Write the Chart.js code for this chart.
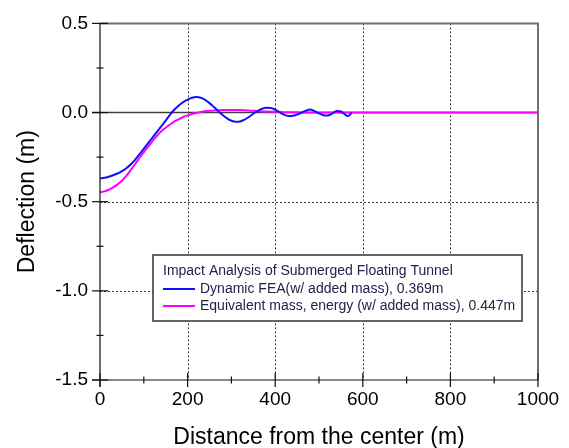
<!DOCTYPE html>
<html>
<head>
<meta charset="utf-8">
<script src="https://cdn.jsdelivr.net/npm/chart.js@4.4.1/dist/chart.umd.min.js"></script>
<style>
  html, body { margin: 0; padding: 0; background: #fff; }
</style>
</head>
<body>
<canvas id="chart" width="569" height="448"></canvas>
<script>
// Dynamic FEA (w/ added mass) - blue
const feaX = [0, 10, 20, 30, 40, 50, 60, 70, 80, 90, 100, 110, 120, 130, 140, 150, 160, 170, 180, 190,
  200, 210, 220, 230, 240, 250, 260, 270, 280, 290, 300, 310, 320, 330, 340, 350, 360, 370, 380, 390,
  400, 410, 420, 430, 440, 450, 460, 470, 480, 490, 500, 510, 520, 530, 540, 550, 560, 565, 570, 575];
const feaY = [-0.369, -0.366, -0.360, -0.352, -0.342, -0.329, -0.312, -0.291, -0.265, -0.235,
  -0.203, -0.171, -0.140, -0.109, -0.077, -0.045, -0.012, 0.017, 0.040, 0.058,
  0.072, 0.083, 0.087, 0.083, 0.071, 0.053, 0.031, 0.008, -0.014, -0.033,
  -0.046, -0.052, -0.050, -0.040, -0.025, -0.007, 0.009, 0.021, 0.027, 0.026,
  0.016, 0.002, -0.012, -0.019, -0.018, -0.011, -0.001, 0.010, 0.017, 0.008,
  -0.005, -0.015, -0.017, -0.006, 0.009, 0.006, -0.012, -0.020, -0.014, 0.000];

// Equivalent mass, energy (w/ added mass) - magenta
const eqX = [0, 10, 20, 30, 40, 50, 60, 70, 80, 90, 100, 110, 120, 130, 140, 150, 160, 170, 180, 190,
  200, 210, 220, 230, 240, 250, 260, 280, 300, 320, 340, 360, 380, 400, 420, 450, 500, 600, 1000];
const eqY = [-0.447, -0.442, -0.433, -0.420, -0.403, -0.382, -0.355, -0.323, -0.290, -0.255,
  -0.222, -0.191, -0.160, -0.130, -0.105, -0.085, -0.067, -0.050, -0.037, -0.025,
  -0.016, -0.008, -0.002, 0.003, 0.007, 0.010, 0.012, 0.014, 0.015, 0.014,
  0.012, 0.009, 0.006, 0.004, 0.002, 0.001, 0, 0, 0];

const seriesLabels = ['Dynamic FEA(w/ added mass), 0.369m', 'Equivalent mass, energy (w/ added mass), 0.447m'];
const legendTitle = 'Impact Analysis of Submerged Floating Tunnel';

const FONT = "'Liberation Sans', Arial, sans-serif";

// gridlines, zero line, frame, crossing tick marks and the boxed legend
const decoPlugin = {
  id: 'deco',
  beforeDatasetsDraw(chart) {
    const ctx = chart.ctx;
    const a = chart.chartArea;
    const xs = chart.scales.x, ys = chart.scales.y;
    ctx.save();
    ctx.strokeStyle = '#333';
    ctx.lineWidth = 1;
    ctx.setLineDash([2, 2]);
    xs.ticks.forEach(t => {
      if (t.value === xs.min || t.value === xs.max) return;
      const px = Math.round(xs.getPixelForValue(t.value)) + 0.5;
      ctx.beginPath(); ctx.moveTo(px, a.top); ctx.lineTo(px, a.bottom); ctx.stroke();
    });
    ys.ticks.forEach(t => {
      if (t.value === ys.min || t.value === ys.max || t.value === 0) return;
      const py = Math.round(ys.getPixelForValue(t.value)) + 0.5;
      ctx.beginPath(); ctx.moveTo(a.left, py); ctx.lineTo(a.right, py); ctx.stroke();
    });
    ctx.setLineDash([]);
    // zero line
    ctx.strokeStyle = '#404040';
    ctx.lineWidth = 1.5;
    const zy = ys.getPixelForValue(0);
    ctx.beginPath(); ctx.moveTo(a.left - 8, zy); ctx.lineTo(a.right, zy); ctx.stroke();
    // top and right frame
    ctx.strokeStyle = '#707070';
    ctx.lineWidth = 2;
    ctx.beginPath();
    ctx.moveTo(a.left, a.top); ctx.lineTo(a.right, a.top); ctx.lineTo(a.right, a.bottom);
    ctx.stroke();
    ctx.restore();
  },
  afterDatasetsDraw(chart) {
    const ctx = chart.ctx;
    const a = chart.chartArea;
    const xs = chart.scales.x, ys = chart.scales.y;
    ctx.save();
    // axes
    ctx.strokeStyle = '#111';
    ctx.lineWidth = 1.2;
    ctx.beginPath();
    ctx.moveTo(a.left, a.top); ctx.lineTo(a.left, a.bottom + 7);
    ctx.moveTo(a.left - 8, a.bottom); ctx.lineTo(a.right, a.bottom);
    ctx.stroke();
    // x ticks: major every 200, minor every 100, crossing the axis
    for (let v = xs.min; v <= xs.max; v += 100) {
      const px = xs.getPixelForValue(v);
      const h = (v % 200 === 0) ? 7 : 3.5;
      ctx.beginPath(); ctx.moveTo(px, a.bottom - h); ctx.lineTo(px, a.bottom + h); ctx.stroke();
    }
    // y ticks: major every 0.5, minor every 0.25
    for (let i = 0; i <= 8; i++) {
      const v = ys.min + i * 0.25;
      const py = ys.getPixelForValue(v);
      const w = (i % 2 === 0) ? 8 : 3.5;
      ctx.beginPath(); ctx.moveTo(a.left - w, py); ctx.lineTo(a.left + w, py); ctx.stroke();
    }
    // legend box
    const bx = 153, by = 255, bw = 369, bh = 66;
    ctx.fillStyle = '#fff';
    ctx.fillRect(bx, by, bw, bh);
    ctx.strokeStyle = '#333';
    ctx.lineWidth = 1.5;
    ctx.strokeRect(bx, by, bw, bh);
    ctx.font = '14px ' + FONT;
    ctx.textBaseline = 'middle';
    ctx.textAlign = 'left';
    ctx.fillStyle = '#23234a';
    ctx.fillText(legendTitle, 163, 271);
    chart.data.datasets.forEach((ds, i) => {
      const ly = 289 + i * 17;
      ctx.strokeStyle = ds.borderColor;
      ctx.lineWidth = 2;
      ctx.beginPath(); ctx.moveTo(163, ly); ctx.lineTo(195, ly); ctx.stroke();
      ctx.fillStyle = '#23234a';
      ctx.fillText(ds.label, 200, ly);
    });
    ctx.restore();
  }
};

const toPoints = (xs, ys) => xs.map((x, i) => ({ x: x, y: ys[i] }));

new Chart(document.getElementById('chart').getContext('2d'), {
  type: 'scatter',
  data: {
    datasets: [{
      label: seriesLabels[0],
      data: toPoints(feaX, feaY),
      borderColor: '#1010ff',
      borderWidth: 2,
      showLine: true,
      pointRadius: 0,
      cubicInterpolationMode: 'monotone',
      order: 0
    }, {
      label: seriesLabels[1],
      data: toPoints(eqX, eqY),
      borderColor: '#ff00ff',
      borderWidth: 2,
      showLine: true,
      pointRadius: 0,
      cubicInterpolationMode: 'monotone',
      order: 1
    }]
  },
  options: {
    responsive: false,
    animation: false,
    devicePixelRatio: 1,
    layout: { padding: { left: 0, top: 19, right: 31, bottom: 0 } },
    plugins: { legend: { display: false }, tooltip: { enabled: false } },
    scales: {
      x: {
        type: 'linear',
        min: 0,
        max: 1000,
        afterFit(scale) { scale.height = 68; },
        ticks: { stepSize: 200, color: '#000', padding: 8, font: { family: FONT, size: 19 },
          callback: v => String(v) },
        grid: { drawOnChartArea: false, drawTicks: false },
        border: { display: false },
        title: { display: true, text: 'Distance from the center (m)', color: '#000',
          padding: { top: 0, bottom: -3 }, font: { family: FONT, size: 23 } }
      },
      y: {
        min: -1.5,
        max: 0.5,
        afterFit(scale) { scale.width = 100; },
        ticks: { stepSize: 0.5, color: '#000', padding: 12, font: { family: FONT, size: 19 },
          callback: v => v.toFixed(1) },
        grid: { drawOnChartArea: false, drawTicks: false },
        border: { display: false },
        title: { display: true, text: 'Deflection (m)', color: '#000',
          padding: { top: 14, bottom: 0 }, font: { family: FONT, size: 23 } }
      }
    }
  },
  plugins: [decoPlugin]
});
</script>
</body>
</html>
